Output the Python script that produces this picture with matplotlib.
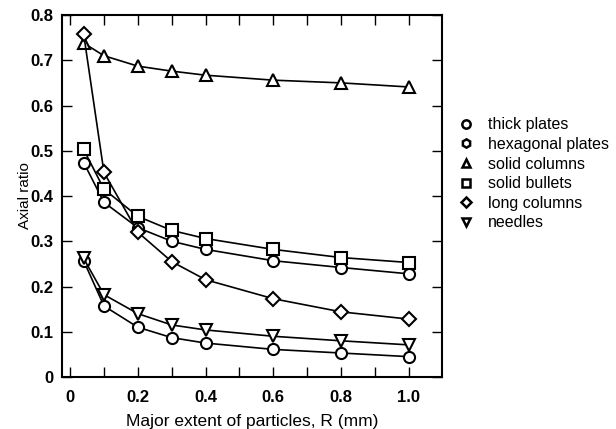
import matplotlib
matplotlib.use("Agg")
import matplotlib.pyplot as plt
from matplotlib.ticker import FixedLocator, FixedFormatter

plt.rcParams['font.family'] = ['Liberation Sans', 'DejaVu Sans']

R = [0.04, 0.1, 0.2, 0.3, 0.4, 0.6, 0.8, 1.0]
thick_plates = [0.474, 0.386, 0.330, 0.300, 0.282, 0.257, 0.242, 0.228]
hexagonal_plates = [0.257, 0.157, 0.110, 0.087, 0.075, 0.061, 0.053, 0.045]
solid_columns = [0.738, 0.710, 0.687, 0.676, 0.667, 0.656, 0.650, 0.641]
solid_bullets = [0.503, 0.415, 0.355, 0.324, 0.306, 0.282, 0.264, 0.253]
long_columns = [0.758, 0.452, 0.320, 0.255, 0.215, 0.173, 0.144, 0.128]
needles = [0.262, 0.182, 0.140, 0.115, 0.104, 0.090, 0.080, 0.071]

series = [
    ("thick plates", thick_plates, "o"),
    ("hexagonal plates", hexagonal_plates, "o"),
    ("solid columns", solid_columns, "^"),
    ("solid bullets", solid_bullets, "s"),
    ("long columns", long_columns, "D"),
    ("needles", needles, "v"),
]
legend_markers = {"thick plates": "o", "hexagonal plates": "h"}

xticks = [0.0, 0.1, 0.2, 0.3, 0.4, 0.5, 0.6, 0.7, 0.8, 0.9, 1.0]
xticklabels = ["0", "", "0.2", "", "0.4", "", "0.6", "", "0.8", "", "1.0"]
yticks = [0.0, 0.1, 0.2, 0.3, 0.4, 0.5, 0.6, 0.7, 0.8]
yticklabels = ["0", "0.1", "0.2", "0.3", "0.4", "0.5", "0.6", "0.7", "0.8"]

fig = plt.figure(figsize=(6.16, 4.29), dpi=100)
ax = fig.add_axes([0.1006, 0.1212, 0.617, 0.8438])

handles = []
for name, vals, mk in series:
    msize = 8 if mk != "D" else 7
    ax.plot(R, vals, color="black", lw=1.2, marker=mk, markersize=msize,
            markerfacecolor="white", markeredgecolor="black", markeredgewidth=1.5)
    lm = legend_markers.get(name, mk)
    h, = ax.plot([], [], linestyle="none", marker=lm, markersize=6 if lm != "D" else 5.5,
                 markerfacecolor="white", markeredgecolor="black", markeredgewidth=1.8,
                 label=name)
    handles.append(h)

ax.set_xlim(-0.024, 1.098)
ax.set_ylim(0, 0.8)
ax.xaxis.set_major_locator(FixedLocator(xticks))
ax.xaxis.set_major_formatter(FixedFormatter(xticklabels))
ax.yaxis.set_major_locator(FixedLocator(yticks))
ax.yaxis.set_major_formatter(FixedFormatter(yticklabels))
ax.tick_params(direction="in", length=7, width=1.0, top=True, right=True,
               labelsize=12, pad=6)
ax.tick_params(axis="x", pad=9)
for lab in ax.get_xticklabels() + ax.get_yticklabels():
    lab.set_fontweight("bold")
for sp in ax.spines.values():
    sp.set_linewidth(1.5)

ax.set_xlabel("Major extent of particles, R (mm)", fontsize=12.5, labelpad=7)
ax.set_ylabel("Axial ratio", fontsize=11, labelpad=-1)

ax.legend(handles=handles, loc="upper left", bbox_to_anchor=(1.025, 0.735),
          frameon=False, fontsize=11.5, handlelength=1.0, handletextpad=0.9,
          labelspacing=0.29, borderaxespad=0)

fig.savefig("out.png", dpi=100)
